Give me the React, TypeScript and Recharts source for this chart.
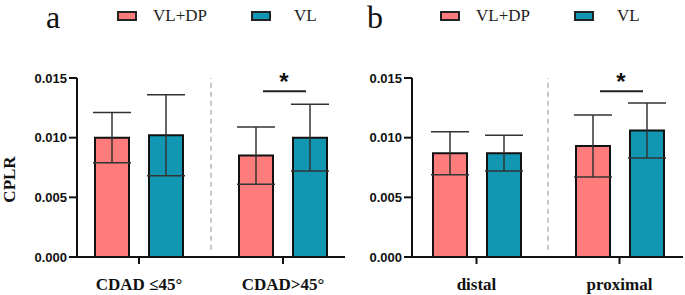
import { BarChart, Bar, XAxis, YAxis, ErrorBar, ReferenceLine, LabelList, Legend, Label } from "recharts"

const seriesNames = ["VL+DP", "VL"]
const seriesColors = ["#FF7C7C", "#1197B2"]
const yTicks = [0, 0.005, 0.01, 0.015]

// panel a
const groupsA = ["CDAD ≤45°", "CDAD>45°"]
const vlDpA = [0.01, 0.0085]
const vlDpErrA = [0.0021, 0.0024]
const vlA = [0.0102, 0.01]
const vlErrA = [0.0034, 0.0028]
const sigA = [false, true]

// panel b
const groupsB = ["distal", "proximal"]
const vlDpB = [0.0087, 0.0093]
const vlDpErrB = [0.0018, 0.0026]
const vlB = [0.0087, 0.0106]
const vlErrB = [0.0015, 0.0023]
const sigB = [false, true]

const sigLevel = 0.0139
const dividerFrom = 0.0006

const ink = "#111"
const serif = "'Liberation Serif', 'Times New Roman', serif"
const sans = "'Liberation Sans', Arial, sans-serif"

type PanelProps = {
  letter: string
  groups: string[]
  vlDp: number[]
  vlDpErr: number[]
  vl: number[]
  vlErr: number[]
  sig: boolean[]
  left: number
  width: number
  axisWidth: number
  marginRight: number
  padL: number
  padR: number
  legendLeft: number
  letterLeft: number
  yLabel?: string
}

function Panel(p: PanelProps) {
  const data = p.groups.map((g, i) => ({
    group: g,
    vlDp: p.vlDp[i],
    vlDpErr: p.vlDpErr[i],
    vl: p.vl[i],
    vlErr: p.vlErr[i],
    sig: p.sig[i],
  }))

  const renderSig = (props: any) => {
    const { x, y, width, height, index } = props
    const row = data[index]
    if (!row || !row.sig) return null
    const perUnit = Number(height) / row.vl
    const base = Number(y) + Number(height)
    const cy = base - sigLevel * perUnit
    const cx = Number(x) - 10
    return (
      <g>
        <line x1={cx - 20} x2={cx + 23} y1={cy} y2={cy} stroke="#222" strokeWidth={2} />
        <text x={cx + 1} y={cy - 1} textAnchor="middle" fontSize={24} fontWeight={700} fontFamily={sans} fill="#111">
          *
        </text>
      </g>
    )
  }

  const renderLegend = (props: any) => {
    const items = [...(props.payload || [])].sort(
      (a: any, b: any) => seriesNames.indexOf(a.value) - seriesNames.indexOf(b.value)
    )
    return (
      <div style={{ display: "flex", alignItems: "center", height: 20 }}>
        {items.map((it: any, i: number) => (
          <div key={i} style={{ display: "flex", alignItems: "center", width: i === 0 ? 134 : "auto" }}>
            <div
              style={{
                width: 20,
                height: 10,
                boxSizing: "border-box",
                background: it.color,
                border: "2px solid #222",
              }}
            />
            <span
              style={{
                marginLeft: i === 0 ? 16 : 23,
                fontFamily: serif,
                fontSize: 17,
                color: "#222",
                lineHeight: "20px",
              }}
            >
              {it.value}
            </span>
          </div>
        ))}
      </div>
    )
  }

  const renderYLabel = (props: any) => {
    const vb = props.viewBox || {}
    const x = vb.x + 9
    const y = vb.y + vb.height / 2 + 12
    return (
      <text
        x={x}
        y={y}
        transform={`rotate(-90 ${x} ${y})`}
        textAnchor="middle"
        dominantBaseline="central"
        fontFamily={serif}
        fontWeight={700}
        fontSize={17}
        fill={ink}
      >
        {p.yLabel}
      </text>
    )
  }

  return (
    <div style={{ position: "absolute", left: p.left, top: 0, width: p.width, height: 295 }}>
      <div
        style={{
          position: "absolute",
          left: p.letterLeft,
          top: 1,
          fontFamily: serif,
          fontSize: 32,
          lineHeight: "32px",
          color: "#111",
        }}
      >
        {p.letter}
      </div>
      <BarChart
        width={p.width}
        height={295}
        data={data}
        barGap={20}
        margin={{ top: 78, right: p.marginRight, bottom: 0, left: 0 }}
      >
        <XAxis
          dataKey="group"
          interval={0}
          padding={{ left: p.padL, right: p.padR }}
          height={38}
          tickSize={7}
          tickMargin={14}
          axisLine={{ stroke: ink, strokeWidth: 2 }}
          tickLine={{ stroke: ink, strokeWidth: 2 }}
          tick={{ fill: ink, fontSize: 17, fontWeight: 700, fontFamily: serif }}
        />
        <YAxis
          domain={[0, 0.015]}
          ticks={yTicks}
          tickFormatter={(v: number) => v.toFixed(3)}
          width={p.axisWidth}
          tickSize={8}
          tickMargin={2}
          axisLine={{ stroke: ink, strokeWidth: 2 }}
          tickLine={{ stroke: ink, strokeWidth: 2 }}
          tick={{ fill: ink, fontSize: 13, fontWeight: 700, fontFamily: sans }}
        >
          {p.yLabel ? <Label content={renderYLabel} /> : null}
        </YAxis>
        <Legend
          layout="horizontal"
          verticalAlign="middle"
          align="center"
          wrapperStyle={{ top: 6, left: p.legendLeft, width: "auto" }}
          content={renderLegend}
        />
        <ReferenceLine
          segment={[
            { x: p.groups[0], y: dividerFrom },
            { x: p.groups[0], y: 0.015 },
          ]}
          position="end"
          stroke="#b5b5b5"
          strokeWidth={1.5}
          strokeDasharray="5 4"
        />
        <Bar
          dataKey="vlDp"
          name={seriesNames[0]}
          fill={seriesColors[0]}
          stroke={ink}
          strokeWidth={2}
          barSize={34}
          isAnimationActive={false}
        >
          <ErrorBar dataKey="vlDpErr" width={19} stroke="#333" strokeWidth={1.5} direction="y" />
        </Bar>
        <Bar
          dataKey="vl"
          name={seriesNames[1]}
          fill={seriesColors[1]}
          stroke={ink}
          strokeWidth={2}
          barSize={34}
          isAnimationActive={false}
        >
          <ErrorBar dataKey="vlErr" width={19} stroke="#333" strokeWidth={1.5} direction="y" />
          <LabelList dataKey="vl" content={renderSig} />
        </Bar>
      </BarChart>
    </div>
  )
}

export default function App() {
  return (
    <div style={{ position: "absolute", left: 0, top: 0, width: 685, height: 295, background: "#fff" }}>
      <Panel
        letter="a"
        groups={groupsA}
        vlDp={vlDpA}
        vlDpErr={vlDpErrA}
        vl={vlA}
        vlErr={vlErrA}
        sig={sigA}
        left={0}
        width={350}
        axisWidth={77}
        marginRight={5}
        padL={-10}
        padR={-10}
        legendLeft={117}
        letterLeft={46}
        yLabel="CPLR"
      />
      <Panel
        letter="b"
        groups={groupsB}
        vlDp={vlDpB}
        vlDpErr={vlDpErrB}
        vl={vlB}
        vlErr={vlErrB}
        sig={sigB}
        left={340}
        width={345}
        axisWidth={72}
        marginRight={2}
        padL={-7}
        padR={-8}
        legendLeft={100}
        letterLeft={27}
      />
    </div>
  )
}
